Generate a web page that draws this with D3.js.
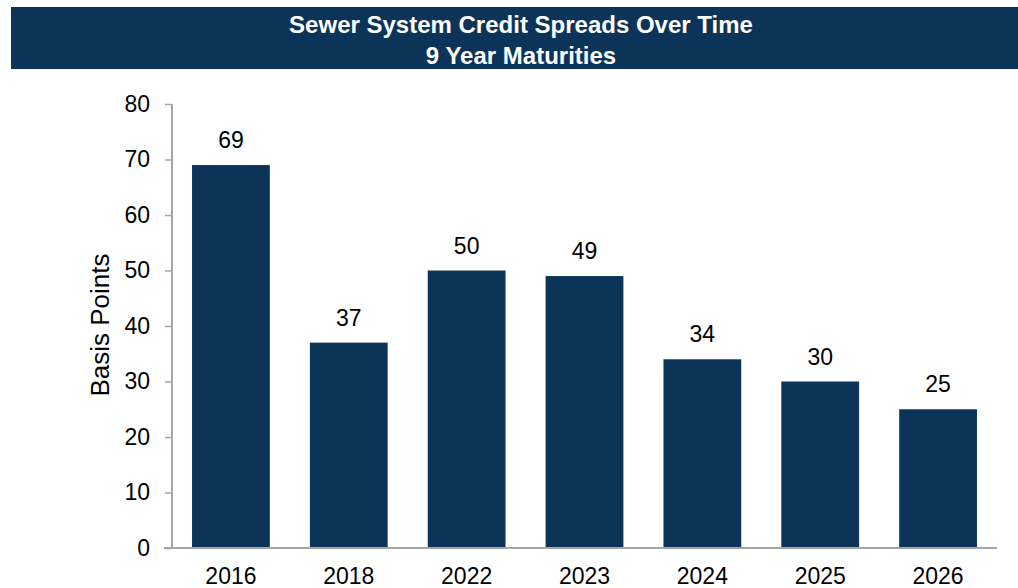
<!DOCTYPE html>
<html>
<head>
<meta charset="utf-8">
<script src="https://cdn.jsdelivr.net/npm/d3@7"></script>
<style>
  html, body { margin: 0; padding: 0; background: #fff; }
  svg { display: block; }
  text { font-family: "Liberation Sans", Arial, sans-serif; }
</style>
</head>
<body>
<svg id="chart" width="1018" height="588"></svg>
<script>
// Chart data
const years = ["2016", "2018", "2022", "2023", "2024", "2025", "2026"];
const spreads = [69, 37, 50, 49, 34, 30, 25];
const yTicks = [0, 10, 20, 30, 40, 50, 60, 70, 80];
const titleLines = ["Sewer System Credit Spreads Over Time", "9 Year Maturities"];
const yAxisTitle = "Basis Points";

const navy = "#0c3458";
const axisGrey = "#a6a6a6";

const svg = d3.select("#chart");

// Title banner
svg.append("rect")
  .attr("x", 11).attr("y", 7)
  .attr("width", 1018 - 11).attr("height", 62)
  .attr("fill", navy);

svg.selectAll("text.title")
  .data(titleLines)
  .join("text")
  .attr("class", "title")
  .attr("x", 521)
  .attr("y", (d, i) => 33 + i * 31)
  .attr("text-anchor", "middle")
  .attr("fill", "#fff")
  .attr("font-weight", "bold")
  .attr("font-size", 24)
  .text(d => d);

// Plot area
const plot = { left: 172, right: 997, top: 104, bottom: 548 };

const x = d3.scaleBand()
  .domain(years)
  .range([plot.left, plot.right])
  .paddingInner(0.34)
  .paddingOuter(0.17);

const y = d3.scaleLinear()
  .domain([0, 80])
  .range([plot.bottom, plot.top]);

// Bars
svg.append("g")
  .selectAll("rect")
  .data(years)
  .join("rect")
  .attr("x", d => x(d))
  .attr("y", (d, i) => y(spreads[i]))
  .attr("width", x.bandwidth())
  .attr("height", (d, i) => y(0) - y(spreads[i]))
  .attr("fill", navy);

// Value labels
svg.append("g")
  .selectAll("text")
  .data(years)
  .join("text")
  .attr("x", d => x(d) + x.bandwidth() / 2)
  .attr("y", (d, i) => y(spreads[i]) - 17)
  .attr("text-anchor", "middle")
  .attr("font-size", 23)
  .attr("fill", "#000")
  .text((d, i) => spreads[i]);

// Y axis
const yAxis = svg.append("g")
  .attr("transform", `translate(${plot.left},0)`)
  .call(d3.axisLeft(y).tickValues(yTicks).tickSize(7).tickPadding(15).tickSizeOuter(0));
yAxis.select(".domain").attr("stroke", axisGrey).attr("stroke-width", 2)
  .attr("d", `M0,${plot.top}V${plot.bottom}`);
yAxis.selectAll(".tick line").attr("stroke", axisGrey).attr("stroke-width", 1.5);
yAxis.selectAll(".tick text")
  .attr("font-size", 23)
  .attr("font-family", "Liberation Sans, Arial, sans-serif")
  .attr("fill", "#000");

// X axis
const xAxis = svg.append("g")
  .attr("transform", `translate(0,${plot.bottom})`)
  .call(d3.axisBottom(x).tickSize(0).tickPadding(20).tickSizeOuter(0));
xAxis.select(".domain").attr("stroke", axisGrey).attr("stroke-width", 2)
  .attr("d", `M${plot.left - 8},0H${plot.right}`);
xAxis.selectAll(".tick text")
  .attr("font-size", 23)
  .attr("font-family", "Liberation Sans, Arial, sans-serif")
  .attr("fill", "#000");

// Y axis title
svg.append("text")
  .attr("transform", "translate(109,325) rotate(-90)")
  .attr("text-anchor", "middle")
  .attr("font-size", 26)
  .attr("fill", "#000")
  .text(yAxisTitle);
</script>
</body>
</html>
